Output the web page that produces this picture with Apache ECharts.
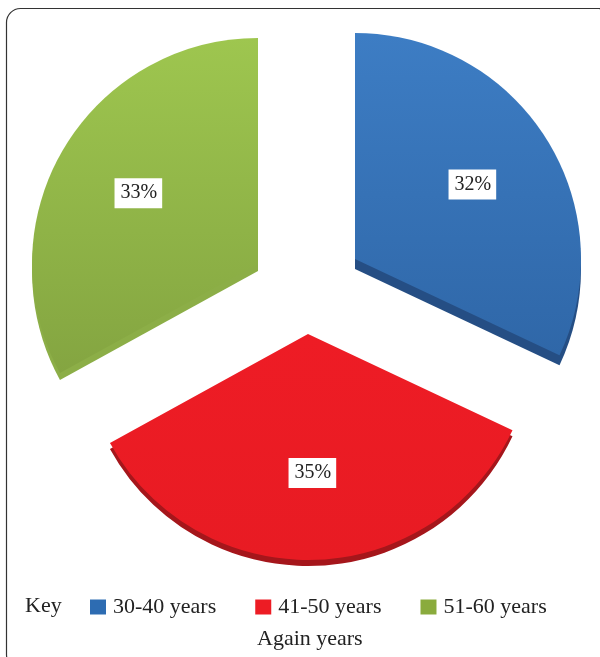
<!DOCTYPE html>
<html>
<head>
<meta charset="utf-8">
<script src="https://cdn.jsdelivr.net/npm/echarts@6/dist/echarts.min.js"></script>
<style>
  html, body { margin: 0; padding: 0; background: #fff; }
  #chart { width: 600px; height: 657px; }
</style>
</head>
<body>
<div id="chart"></div>
<script>
// Age groups and their share of respondents (%)
const categories = ['30-40 years', '41-50 years', '51-60 years'];
const shares = [32, 35, 33];

// Colours: upper face gradient, side band, legend swatch
const faceTop = ['#3d7dc4', '#ee1c25', '#9ec64f'];
const faceBottom = ['#2f67a8', '#e81b23', '#84a541'];
const sideColors = ['#254e84', '#a5161b', '#8cae47'];
const swatchColors = ['#2d6cb2', '#ed1c24', '#8aab3d'];

// Exploded layout: each slice has its own apex, plus a thickness for the side band
const RADIUS = 226;
const sliceCenters = [[355, 259], [308, 334], [258, 264]];
const sideDepth = [10, 6, 7];
const FONT = 'Liberation Serif';

function sliceData(i, colorFor, withLabel) {
  return shares.map((v, j) => ({
    name: categories[j],
    value: v,
    itemStyle: j === i ? { color: colorFor(j) } : { color: 'rgba(0,0,0,0)' },
    label: { show: withLabel && j === i }
  }));
}

const series = [];
categories.forEach((name, i) => {
  const c = sliceCenters[i];
  // side band (drawn first, shifted down)
  series.push({
    type: 'pie', silent: true, animation: false,
    startAngle: 90, clockwise: true,
    center: [c[0], c[1] + sideDepth[i]], radius: [0, RADIUS],
    label: { show: false }, labelLine: { show: false },
    data: sliceData(i, j => sideColors[j], false)
  });
  // upper face
  series.push({
    type: 'pie', silent: true, animation: false,
    startAngle: 90, clockwise: true,
    center: c, radius: [0, RADIUS],
    label: { show: false }, labelLine: { show: false },
    data: sliceData(i, j => new echarts.graphic.LinearGradient(0, 0, 0, 1, [
      { offset: 0, color: faceTop[j] }, { offset: 1, color: faceBottom[j] }
    ]), false)
  });
  // percentage label
  series.push({
    type: 'pie', silent: true, animation: false,
    startAngle: 90, clockwise: true,
    center: c, radius: [60, 212],
    labelLine: { show: false },
    label: {
      position: 'inside',
      formatter: '{c}%',
      color: '#222',
      fontFamily: FONT,
      fontSize: 20,
      lineHeight: 20,
      backgroundColor: '#ffffff',
      padding: [6, 5, 4, 6]
    },
    data: sliceData(i, () => 'rgba(0,0,0,0)', true)
  });
});

const chart = echarts.init(document.getElementById('chart'), null, { renderer: 'canvas' });
chart.setOption({
  backgroundColor: '#ffffff',
  animation: false,
  title: {
    text: 'Again years',
    left: 252, top: 623,
    textStyle: { fontFamily: FONT, fontSize: 22, fontWeight: 'normal', color: '#222' }
  },
  legend: {
    left: 90, top: 596, padding: 0,
    itemWidth: 16, itemHeight: 15, itemGap: 39,
    icon: 'rect',
    selectedMode: false,
    textStyle: { fontFamily: FONT, fontSize: 22, color: '#222', padding: [0, 0, 0, 2] },
    data: categories.map((n, j) => ({ name: n, itemStyle: { color: swatchColors[j] } }))
  },
  graphic: [
    {
      type: 'rect', silent: true,
      shape: { x: 6.5, y: 8.5, width: 606, height: 660, r: 14 },
      style: { fill: 'none', stroke: '#333', lineWidth: 1.2 }
    },
    {
      type: 'text', left: 25, top: 595,
      style: { text: 'Key', fontFamily: FONT, fontSize: 22, fill: '#222' }
    }
  ],
  series: series
});
</script>
</body>
</html>
